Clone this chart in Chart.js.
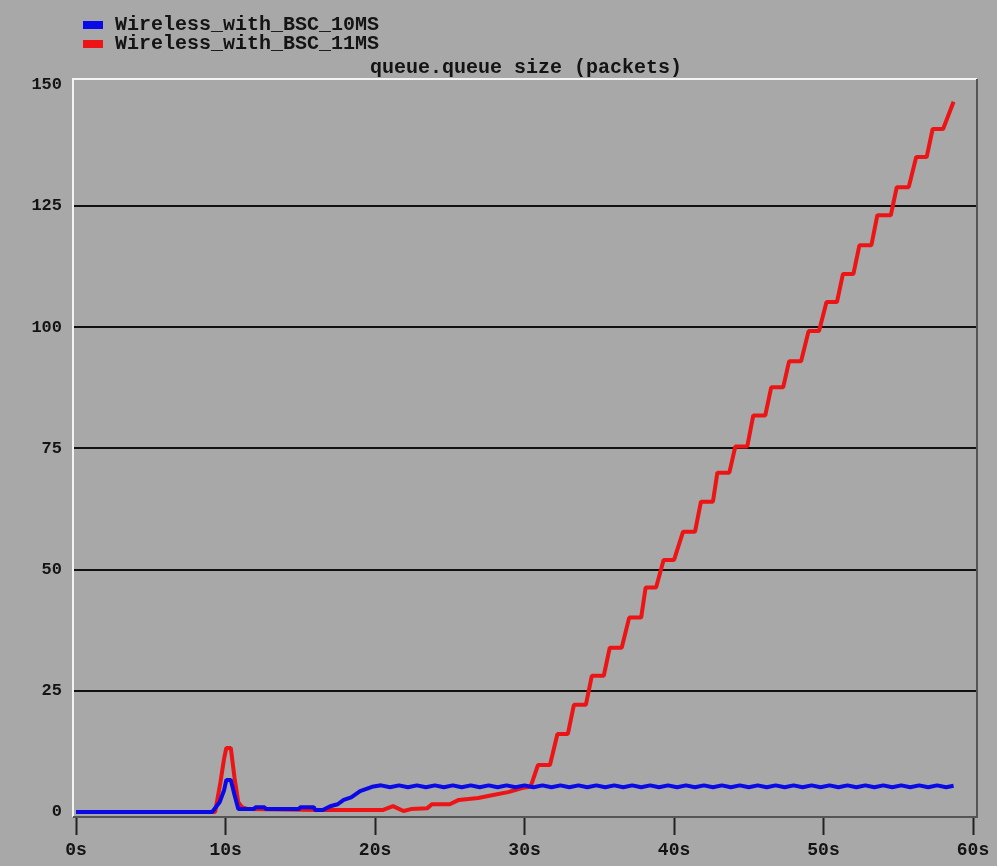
<!DOCTYPE html>
<html>
<head>
<meta charset="utf-8">
<script src="https://cdn.jsdelivr.net/npm/chart.js@4.4.0/dist/chart.umd.min.js"></script>
<style>
  html, body { margin: 0; padding: 0; background: #a8a8a8; }
  #wrap { width: 997px; height: 866px; }
</style>
</head>
<body>
<div id="wrap"><canvas id="queueChart" width="997" height="866"></canvas></div>
<script>
// ---- data ----
const chartTitle = "queue.queue size (packets)";
const seriesNames = ["Wireless_with_BSC_10MS", "Wireless_with_BSC_11MS"];
const seriesColors = ["#0a0ae6", "#ec1414"];

const xTicks = [0, 10, 20, 30, 40, 50, 60];
const yTicks = [0, 25, 50, 75, 100, 125, 150];

// blue: Wireless_with_BSC_10MS (time in s, queue size)
const blueTimes = [0, 9.1, 9.6, 9.9, 10.05, 10.35, 10.6, 10.85, 11.9, 12.0, 12.6, 12.7, 14.9, 15.0, 15.9, 16.0,
  16.5, 17.0, 17.5, 17.9, 18.4, 19.0, 19.8,
  20.4, 21.0, 21.6, 22.2, 22.8, 23.4, 24.0, 24.6, 25.2, 25.8, 26.4, 27.0, 27.6, 28.2, 28.8, 29.4,
  30.0, 30.6, 31.2, 31.8, 32.4, 33.0, 33.6, 34.2, 34.8, 35.4, 36.0, 36.6, 37.2, 37.8, 38.4, 39.0,
  39.6, 40.2, 40.8, 41.4, 42.0, 42.6, 43.2, 43.8, 44.4, 45.0, 45.6, 46.2, 46.8, 47.4, 48.0, 48.6,
  49.2, 49.8, 50.4, 51.0, 51.6, 52.2, 52.8, 53.4, 54.0, 54.6, 55.2, 55.8, 56.4, 57.0, 57.6, 58.2, 58.7];
const blueValues = [0, 0, 2, 4.5, 6.6, 6.6, 3.5, 0.6, 0.6, 1.0, 1.0, 0.6, 0.6, 1.0, 1.0, 0.4,
  0.4, 1.2, 1.6, 2.5, 3.0, 4.3, 5.2,
  5.5, 5.1, 5.5, 5.1, 5.5, 5.1, 5.5, 5.1, 5.5, 5.1, 5.5, 5.1, 5.5, 5.1, 5.5, 5.1,
  5.5, 5.1, 5.5, 5.1, 5.5, 5.1, 5.5, 5.1, 5.5, 5.1, 5.5, 5.1, 5.5, 5.1, 5.5, 5.1,
  5.5, 5.1, 5.5, 5.1, 5.5, 5.1, 5.5, 5.1, 5.5, 5.1, 5.5, 5.1, 5.5, 5.1, 5.5, 5.1,
  5.5, 5.1, 5.5, 5.1, 5.5, 5.1, 5.5, 5.1, 5.5, 5.1, 5.5, 5.1, 5.5, 5.1, 5.5, 5.1, 5.4];

// red: Wireless_with_BSC_11MS
const redTimes = [0, 9.3, 9.65, 9.9, 10.05, 10.35, 10.6, 10.85, 11.1, 11.5, 16.5, 20.5, 21.2, 21.9, 22.4, 23.5, 23.8,
  25.0, 25.6, 26.9, 27.9, 28.9, 29.9, 30.4,
  30.9, 31.7, 32.2, 32.9, 33.3, 34.1, 34.5, 35.3, 35.7, 36.5, 37.0, 37.8, 38.1, 38.8, 39.3, 40.0,
  40.6, 41.4, 41.8, 42.6, 42.9, 43.7, 44.1, 44.9, 45.3, 46.1, 46.5, 47.3, 47.7, 48.5, 49.0, 49.7,
  50.2, 50.9, 51.3, 52.0, 52.4, 53.2, 53.6, 54.5, 54.9, 55.7, 56.2, 56.9, 57.3, 58.0, 58.7];
const redValues = [0, 0, 6, 11, 13.2, 13.2, 7, 2, 1, 0.6, 0.4, 0.4, 1.2, 0.2, 0.6, 0.8, 1.6,
  1.6, 2.5, 2.9, 3.5, 4.1, 5.0, 5.2,
  9.7, 9.7, 16.1, 16.1, 22.1, 22.1, 28.1, 28.1, 33.9, 33.9, 40.1, 40.1, 46.3, 46.3, 52.0, 52.0,
  57.8, 57.8, 64.0, 64.0, 70.0, 70.0, 75.4, 75.4, 81.8, 81.8, 87.6, 87.6, 93.0, 93.0, 99.2, 99.2,
  105.2, 105.2, 111.0, 111.0, 116.9, 116.9, 123.1, 123.1, 128.9, 128.9, 135.1, 135.1, 140.9, 140.9, 146.5];

const toPoints = (ts, vs) => ts.map((t, i) => ({ x: t, y: vs[i] }));

const FONT = "'Liberation Mono', 'DejaVu Sans Mono', monospace";
const TEXT = "#141414";

// frame, legend and title drawn like the old plotting tool
const framePlugin = {
  id: "frame",
  beforeDatasetsDraw(chart) {
    const { ctx, chartArea: a } = chart;
    ctx.save();
    ctx.lineWidth = 2;
    ctx.strokeStyle = "#f4f4f4";
    ctx.beginPath();
    ctx.moveTo(a.left - 1, a.bottom);
    ctx.lineTo(a.left - 1, a.top - 1);
    ctx.lineTo(a.right + 1, a.top - 1);
    ctx.stroke();
    ctx.strokeStyle = "#555";
    ctx.beginPath();
    ctx.moveTo(a.right + 1, a.top - 1);
    ctx.lineTo(a.right + 1, a.bottom);
    ctx.lineTo(a.left - 1, a.bottom);
    ctx.stroke();
    ctx.restore();
  },
  afterDraw(chart) {
    const { ctx, chartArea: a } = chart;
    ctx.save();
    ctx.font = "bold 20px " + FONT;
    ctx.textBaseline = "middle";
    seriesNames.forEach((name, i) => {
      const y = 25 + i * 19;
      ctx.fillStyle = seriesColors[i];
      ctx.fillRect(83, y - 4, 20, 8);
      ctx.fillStyle = TEXT;
      ctx.textAlign = "left";
      ctx.fillText(name, 115, y);
    });
    ctx.textAlign = "center";
    ctx.fillText(chartTitle, (a.left + a.right) / 2 + 1, 68);
    ctx.restore();
  }
};

new Chart(document.getElementById("queueChart"), {
  type: "line",
  data: {
    datasets: [
      { label: seriesNames[1], data: toPoints(redTimes, redValues), borderColor: seriesColors[1], order: 2 },
      { label: seriesNames[0], data: toPoints(blueTimes, blueValues), borderColor: seriesColors[0], order: 1 }
    ]
  },
  options: {
    responsive: false,
    animation: false,
    layout: { padding: { top: 80, right: 21, left: 0, bottom: 0 } },
    elements: {
      line: { borderWidth: 4, tension: 0, borderCapStyle: "butt", borderJoinStyle: "bevel" },
      point: { radius: 0 }
    },
    plugins: {
      legend: { display: false },
      title: { display: false },
      tooltip: { enabled: false }
    },
    scales: {
      x: {
        type: "linear",
        min: -0.14,
        max: 60.2,
        afterBuildTicks: s => { s.ticks = xTicks.map(v => ({ value: v })); },
        afterFit: s => { s.height = 49; },
        border: { display: false },
        grid: { drawOnChartArea: false, drawTicks: true, tickLength: 18, tickWidth: 2, tickColor: "#222" },
        ticks: {
          padding: 5,
          color: TEXT,
          font: { family: FONT, size: 18, weight: "bold" },
          callback: v => v + "s"
        }
      },
      y: {
        min: -1.03,
        max: 151,
        afterBuildTicks: s => { s.ticks = yTicks.map(v => ({ value: v })); },
        afterFit: s => { s.width = 74; },
        border: { display: false },
        grid: {
          drawTicks: false,
          lineWidth: 2,
          color: c => (c.tick && c.tick.value > 0 && c.tick.value < 150) ? "#111" : "rgba(0,0,0,0)"
        },
        ticks: {
          padding: 12,
          color: TEXT,
          font: { family: FONT, size: 17, weight: "bold" }
        }
      }
    }
  },
  plugins: [framePlugin]
});
</script>
</body>
</html>
